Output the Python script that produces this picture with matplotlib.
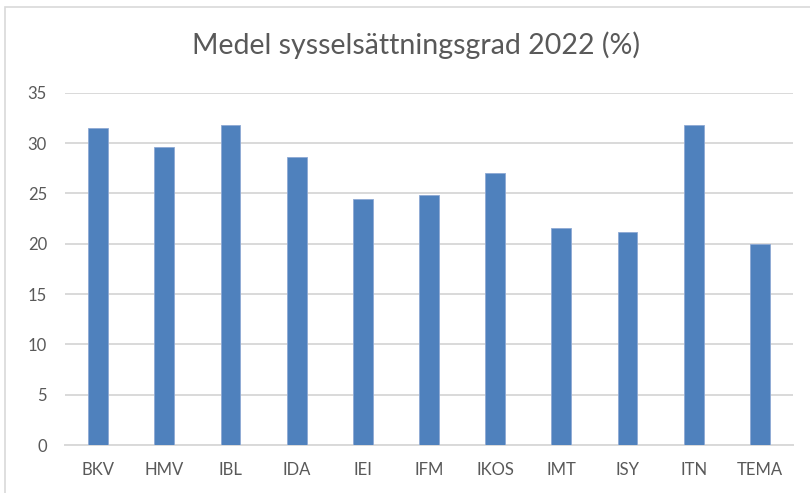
import matplotlib.pyplot as plt
from matplotlib.patches import Rectangle

# Data
categories = ["BKV", "HMV", "IBL", "IDA", "IEI", "IFM", "IKOS", "IMT", "ISY", "ITN", "TEMA"]
values = [31.5, 29.6, 31.75, 28.6, 24.4, 24.85, 27.0, 21.6, 21.2, 31.75, 20.0]
y_ticks = [0, 5, 10, 15, 20, 25, 30, 35]

title = "Medel sysselsättningsgrad 2022 (%)"
text_color = "#595959"
bar_color = "#4F81BD"
grid_color = "#D9D9D9"

plt.rcParams["font.family"] = ["Lato", "DejaVu Sans"]

fig = plt.figure(figsize=(8.1, 4.93), dpi=100)

# outer chart frame
fig.patches.append(Rectangle((5 / 810, -0.1), 1.1, (493 - 7) / 493 + 0.1,
                             transform=fig.transFigure, fill=False,
                             edgecolor="#D9D9D9", linewidth=1.2))

ax = fig.add_axes([65 / 810, 48 / 493, 728 / 810, (445 - 92.7) / 493])

x = range(len(categories))
ax.bar(x, values, width=0.3, color=bar_color, edgecolor="#8DA9D4", linewidth=0.6, zorder=3)

ax.set_xlim(-0.5, len(categories) - 0.5)
ax.set_ylim(0, 35)
ax.set_yticks(y_ticks)
ax.set_xticks(list(x))
ax.set_xticklabels(categories)

ax.grid(axis="y", color=grid_color, linewidth=1.4, zorder=0)
ax.set_axisbelow(True)
for side in ["top", "right", "left"]:
    ax.spines[side].set_visible(False)
ax.spines["bottom"].set_color(grid_color)
ax.spines["bottom"].set_linewidth(1.4)

ax.tick_params(axis="both", length=0, labelsize=12, labelcolor=text_color)
ax.tick_params(axis="y", pad=13)
ax.tick_params(axis="x", pad=12)

fig.text(416 / 810, 1 - 45 / 493, title, ha="center", va="center",
         fontsize=20.5, color=text_color)

fig.savefig("out.png", dpi=100)
